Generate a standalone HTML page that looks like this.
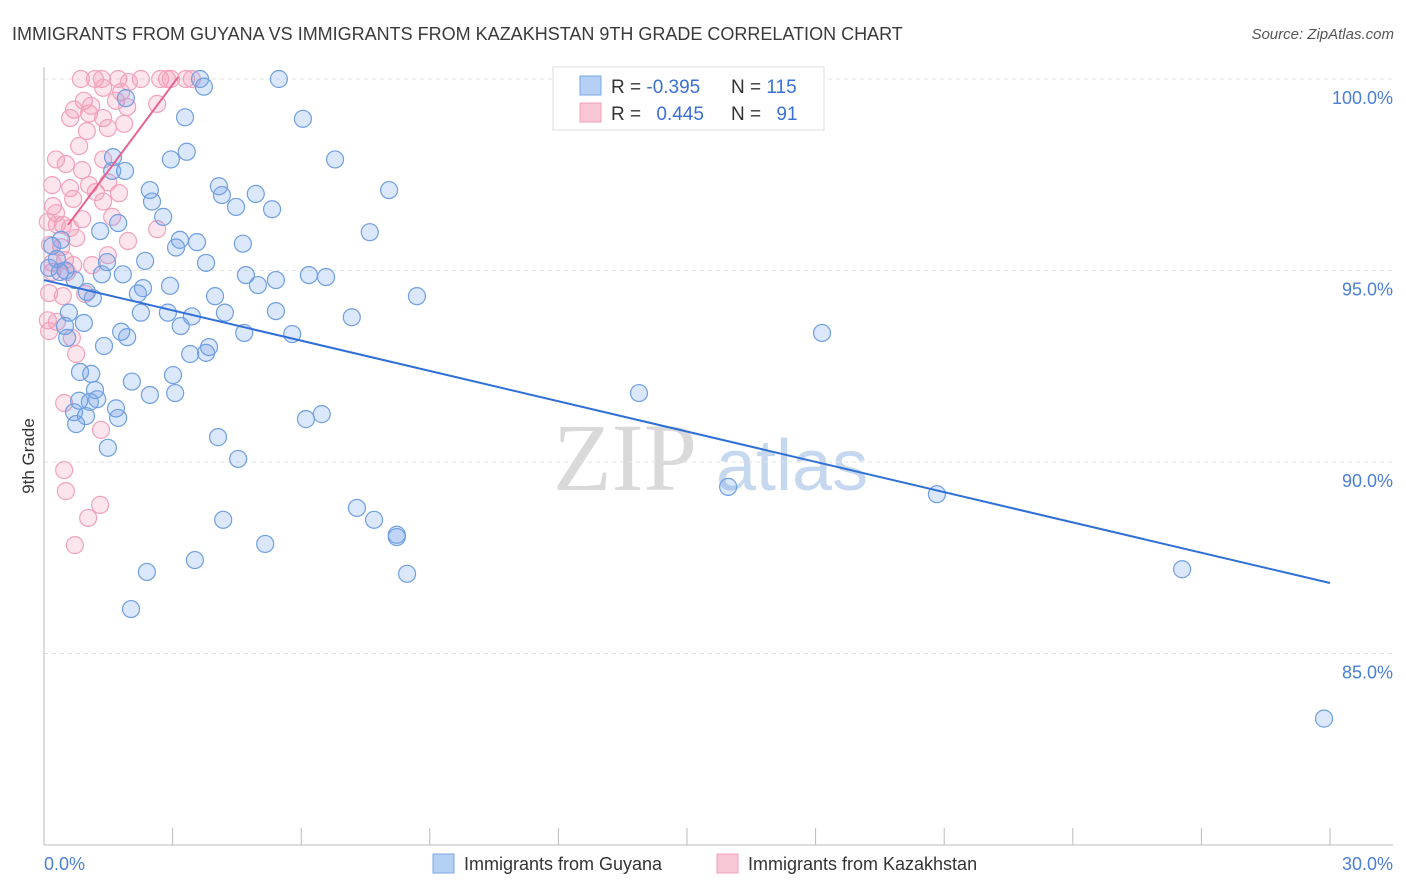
<!DOCTYPE html>
<html><head><meta charset="utf-8">
<style>
body{margin:0;background:#fff;font-family:"Liberation Sans",sans-serif;}
svg{display:block}
</style></head>
<body>
<svg id="chart" width="1406" height="892" xmlns="http://www.w3.org/2000/svg">
<text x="12" y="40" font-size="18" fill="#3a3a3a" font-family="Liberation Sans, sans-serif">IMMIGRANTS FROM GUYANA VS IMMIGRANTS FROM KAZAKHSTAN 9TH GRADE CORRELATION CHART</text>
<text x="1394" y="39" font-size="15" fill="#555" text-anchor="end" font-style="italic">Source: ZipAtlas.com</text>
<g>
<text x="553" y="490" font-size="96" fill="#d9d9d9" font-family="Liberation Serif, serif">ZIP</text>
<text x="716" y="490" font-size="72" fill="#c6d8ef">atlas</text>
</g>
<g id="grid"></g>
<g id="axes"></g>
<g id="marks"></g>
<text x="34" y="456" font-size="17" fill="#333" text-anchor="middle" transform="rotate(-90 34 456)">9th Grade</text>
<g>
<rect x="553" y="67" width="271" height="63" fill="#fff" stroke="#ddd"/>
<rect x="580" y="76" width="21" height="19" fill="#b5d0f5" stroke="#7aa6e6"/>
<rect x="580" y="103" width="21" height="19" fill="#f9c6d6" stroke="#f0a0b8"/>
<text x="611" y="93" font-size="19" fill="#333">R = <tspan fill="#3b6fd4">-0.395</tspan></text>
<text x="731" y="93" font-size="19" fill="#333">N = <tspan fill="#3b6fd4">115</tspan></text>
<text x="611" y="120" font-size="19" fill="#333">R = <tspan fill="#3b6fd4" dx="10">0.445</tspan></text>
<text x="731" y="120" font-size="19" fill="#333">N = <tspan fill="#3b6fd4" dx="10">91</tspan></text>
</g>
<g>
<rect x="433" y="854" width="21" height="19" fill="#b5d0f5" stroke="#7aa6e6"/>
<text x="464" y="870" font-size="18" fill="#333">Immigrants from Guyana</text>
<rect x="717" y="854" width="21" height="19" fill="#f9c6d6" stroke="#f0a0b8"/>
<text x="748" y="870" font-size="18" fill="#333">Immigrants from Kazakhstan</text>
</g>
</svg>
<script>
const yTicks=[100,95,90,85];
const yTickLabels=["100.0%","95.0%","90.0%","85.0%"];
const xTicks=[0,3,6,9,12,15,18,21,24,27,30];
const blueX=[3.64,3.73,5.48,1.91,3.29,6.04,3.33,2.96,1.61,6.79,1.59,1.89,8.05,2.47,4.08,4.15,4.94,2.52,4.48,5.32,2.78,1.73,1.31,7.6,0.4,3.17,3.57,3.08,4.64,0.19,2.36,3.78,1.47,0.12,0.37,1.35,1.84,4.71,5.41,4.99,6.18,6.58,0.72,2.94,2.31,2.19,1.0,1.14,3.99,8.7,0.58,2.26,2.89,3.45,4.22,5.41,7.18,0.49,0.93,3.19,1.8,1.94,4.67,5.79,18.15,0.54,1.4,3.85,3.41,3.78,0.84,1.1,3.01,2.05,1.19,3.06,2.47,13.88,0.82,1.24,1.07,1.68,0.7,0.98,1.73,6.48,6.11,0.75,4.06,1.49,4.53,15.96,20.83,7.3,7.7,4.18,8.23,8.23,5.16,3.52,2.4,8.47,26.55,2.03,29.86,0.3,0.5];
const blueY=[100,99.8,100,99.5,99.0,98.96,98.1,97.9,97.96,97.9,97.6,97.6,97.1,97.1,97.2,96.97,97.0,96.8,96.66,96.6,96.4,96.24,96.03,96.0,95.8,95.8,95.74,95.6,95.7,95.64,95.25,95.2,95.22,95.07,94.96,94.9,94.9,94.88,94.75,94.62,94.88,94.83,94.75,94.6,94.54,94.4,94.44,94.28,94.33,94.33,93.9,93.9,93.9,93.8,93.9,93.94,93.78,93.55,93.63,93.55,93.4,93.26,93.37,93.34,93.37,93.24,93.03,93.0,92.82,92.85,92.35,92.3,92.27,92.1,91.88,91.8,91.75,91.8,91.6,91.64,91.57,91.4,91.3,91.2,91.15,91.25,91.12,90.99,90.65,90.37,90.08,89.35,89.16,88.8,88.49,88.49,88.1,88.04,87.86,87.44,87.13,87.08,87.2,86.16,83.3,95.3,95.0];
const pinkX=[0.86,1.19,1.35,1.73,2.26,2.71,2.96,3.31,3.45,2.87,1.98,1.38,1.8,0.93,1.68,2.64,1.94,0.7,1.05,0.61,1.38,1.87,1.0,1.49,0.82,0.28,0.51,1.38,0.89,0.19,1.05,0.61,1.21,1.75,0.68,1.38,0.21,0.28,0.89,1.59,2.64,0.09,0.44,0.61,0.75,1.96,0.14,0.4,1.49,0.49,0.68,1.12,0.19,0.54,0.12,0.44,0.96,0.09,0.3,0.12,0.65,0.75,0.47,1.33,0.47,0.51,1.31,1.03,0.72,1.1,1.5,0.3,0.2];
const pinkY=[100,100,100,100,100,100,100,100,100,100,99.92,99.77,99.66,99.43,99.43,99.35,99.27,99.2,99.1,98.98,98.98,98.83,98.64,98.72,98.25,97.9,97.78,97.9,97.62,97.23,97.23,97.15,97.05,97.02,96.87,96.8,96.68,96.5,96.34,96.4,96.08,96.27,96.19,96.11,95.85,95.77,95.67,95.61,95.4,95.27,95.14,95.14,94.96,94.96,94.41,94.33,94.39,93.7,93.66,93.42,93.24,92.82,91.54,90.84,89.79,89.24,88.88,88.54,87.83,99.3,97.3,96.2,95.2];
const blueLineX=[0,30];
const blueLineY=[94.75,86.84];
const pinkLineX=[0.56,3.13];
const pinkLineY=[96.19,100.05];
const NS="http://www.w3.org/2000/svg";
const xs=v=>44+v*42.867;
const ys=v=>79+(100-v)*38.3;
function mk(tag,attrs,parent){const e=document.createElementNS(NS,tag);for(const k in attrs)e.setAttribute(k,attrs[k]);parent.appendChild(e);return e;}
const grid=document.getElementById('grid'),axes=document.getElementById('axes'),marks=document.getElementById('marks');
yTicks.forEach((t,i)=>{
 const l=mk('line',{x1:44,x2:1393,y1:ys(t),y2:ys(t),stroke:'#e2e2e2','stroke-dasharray':'4 4'},grid);
 
 
 const tx=mk('text',{x:1393,y:ys(t)+25,'font-size':18,fill:'#4a7fd4','text-anchor':'end'},axes);
 tx.textContent=yTickLabels[i];
 
 
});
let a=mk('line',{x1:44,x2:44,y1:67,y2:845,stroke:'#bbb'},axes);


a=mk('line',{x1:44,x2:1393,y1:845,y2:845,stroke:'#bbb'},axes);


xTicks.forEach(t=>{
 const l=mk('line',{x1:xs(t),x2:xs(t),y1:828,y2:845,stroke:'#bbb'},axes);
 
 
});
let xl=mk('text',{x:44,y:870,'font-size':18,fill:'#4a7fd4'},axes);xl.textContent='0.0%';


xl=mk('text',{x:1393,y:870,'font-size':18,fill:'#4a7fd4','text-anchor':'end'},axes);xl.textContent='30.0%';


pinkX.forEach((x,i)=>{
 const c=mk('circle',{cx:xs(x),cy:ys(pinkY[i]),r:8.5,fill:'rgba(244,150,180,0.25)',stroke:'#f2a2bc','stroke-width':1.2},marks);
 
 
});
blueX.forEach((x,i)=>{
 const c=mk('circle',{cx:xs(x),cy:ys(blueY[i]),r:8.5,fill:'rgba(110,160,235,0.25)',stroke:'#6f9fe2','stroke-width':1.2},marks);
 
 
});
let ln=mk('line',{x1:xs(blueLineX[0]),y1:ys(blueLineY[0]),x2:xs(blueLineX[1]),y2:ys(blueLineY[1]),stroke:'#2f6fd6','stroke-width':2},marks);


ln=mk('line',{x1:xs(pinkLineX[0]),y1:ys(pinkLineY[0]),x2:xs(pinkLineX[1]),y2:ys(pinkLineY[1]),stroke:'#e8628f','stroke-width':2},marks);


</script>
</body></html>
